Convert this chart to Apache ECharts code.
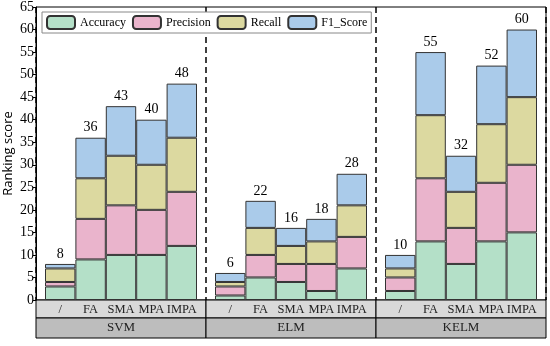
<!DOCTYPE html>
<html>
<head>
<meta charset="utf-8">
<style>html,body{margin:0;padding:0;background:#fff;}#c{width:550px;height:346px;}</style>
<script src="https://cdn.jsdelivr.net/npm/echarts@6/dist/echarts.min.js"></script>
</head>
<body>
<div id="c"></div>
<script>
var categories = ['/', 'FA', 'SMA', 'MPA', 'IMPA'];
var groups = ['SVM', 'ELM', 'KELM'];
var metrics = ['Accuracy', 'Precision', 'Recall', 'F1_Score'];
// values in order SVM(5), ELM(5), KELM(5)
var accuracy  = [3, 9, 10, 10, 12,  1, 5, 4, 2, 7,  2, 13, 8, 13, 15];
var precision = [1, 9, 11, 10, 12,  2, 5, 4, 6, 7,  3, 14, 8, 13, 15];
var recall    = [3, 9, 11, 10, 12,  1, 6, 4, 5, 7,  2, 14, 8, 13, 15];
var f1score   = [1, 9, 11, 10, 12,  2, 6, 4, 5, 7,  3, 14, 8, 13, 15];
var yTicks = {min: 0, max: 65, interval: 5};

var metricData = [accuracy, precision, recall, f1score];
var colors = ['#b4e0c8', '#eab4cc', '#dcd9a0', '#aacbea'];
var serif = 'Liberation Serif';

var chart = echarts.init(document.getElementById('c'), null, {renderer: 'canvas'});

var L = 36, R = 4, T = 7, B = 46, W = 550 - L - R, GW = W / 3, PAD = 9;

var grids = [{left: L, right: R, top: T, bottom: B, show: true, borderColor: '#000', borderWidth: 1,
  backgroundColor: 'transparent', containLabel: false, outerBoundsMode: 'none'}];
var xAxes = [{gridIndex: 0, type: 'value', min: 0, max: 3, interval: 1,
  axisLine: {show: false}, axisTick: {show: false}, axisLabel: {show: false},
  splitLine: {show: true, lineStyle: {type: [6, 4], color: '#000', width: 1.5}}}];
var yAxes = [{gridIndex: 0, type: 'value', position: 'left', min: yTicks.min, max: yTicks.max, interval: yTicks.interval,
  name: 'Ranking score', nameLocation: 'middle', nameGap: 21, nameMoveOverlap: false,
  nameTextStyle: {fontFamily: 'Open Sans', fontSize: 13, color: '#000'},
  axisLine: {show: true, onZero: false, lineStyle: {color: '#000', width: 1}},
  axisTick: {show: true, inside: false, length: 3, lineStyle: {color: '#000'}},
  axisLabel: {inside: false, fontFamily: serif, fontSize: 14, color: '#000', margin: 2},
  splitLine: {show: false}}];
var series = [];

groups.forEach(function (g, gi) {
  var idx = gi + 1;
  grids.push({left: L + GW * gi + PAD, width: GW - 2 * PAD, top: T, bottom: B, containLabel: false, outerBoundsMode: 'none'});
  xAxes.push({gridIndex: idx, type: 'category', data: categories, z: 10,
    axisLine: {show: false}, axisTick: {show: false},
    axisLabel: {fontFamily: serif, fontSize: 12.5, color: '#222', margin: 3, interval: 0}});
  yAxes.push({gridIndex: idx, type: 'value', min: yTicks.min, max: yTicks.max, interval: yTicks.interval, show: false});
  var totals = categories.map(function (c, ci) {
    return metricData.reduce(function (s, arr) { return s + arr[gi * 5 + ci]; }, 0);
  });
  metrics.forEach(function (m, mi) {
    var s = {
      name: m, type: 'bar', xAxisIndex: idx, yAxisIndex: idx, stack: 'g' + gi,
      barCategoryGap: '0%', barGap: '0%',
      data: metricData[mi].slice(gi * 5, gi * 5 + 5),
      itemStyle: {color: colors[mi], borderColor: '#333', borderWidth: 1},
      emphasis: {disabled: true}
    };
    if (mi === metrics.length - 1) {
      s.label = {show: true, position: 'top', distance: 3, fontFamily: serif, fontSize: 14, color: '#000',
        formatter: function (p) { return totals[p.dataIndex]; }};
    }
    series.push(s);
  });
});

// table below the plot
var tIdx = grids.length;
grids.push({left: L, right: R, top: 346 - B, height: 38, containLabel: false, outerBoundsMode: 'none'});
xAxes.push({gridIndex: tIdx, type: 'value', min: 0, max: 3, show: false});
yAxes.push({gridIndex: tIdx, type: 'value', min: 0, max: 38, inverse: true, show: false});
var rowBounds = [0, 18, 38];
var rowColors = ['#d9d9d9', '#bdbdbd'];
var tableData = [];
groups.forEach(function (g, gi) { tableData.push([gi, 0, '']); tableData.push([gi, 1, g]); });
series.push({
  type: 'custom', xAxisIndex: tIdx, yAxisIndex: tIdx, z: 0, silent: true,
  data: tableData,
  renderItem: function (params, api) {
    var gi = api.value(0), r = api.value(1);
    var p0 = api.coord([gi, rowBounds[r]]);
    var p1 = api.coord([gi + 1, rowBounds[r + 1]]);
    var name = tableData[params.dataIndex][2];
    return {
      type: 'group', children: [
        {type: 'rect', shape: {x: p0[0], y: p0[1], width: p1[0] - p0[0], height: p1[1] - p0[1]},
          style: {fill: rowColors[r], stroke: '#000', lineWidth: 1}},
        {type: 'text', style: {text: name, x: (p0[0] + p1[0]) / 2, y: (p0[1] + p1[1]) / 2,
          align: 'center', verticalAlign: 'middle', font: '13px "Liberation Serif"', fill: '#222'}}
      ]
    };
  }
});

chart.setOption({
  animation: false,
  backgroundColor: '#fff',
  grid: grids,
  xAxis: xAxes,
  yAxis: yAxes,
  legend: {
    data: metrics, left: 42, top: 12, orient: 'horizontal',
    itemWidth: 28, itemHeight: 13, itemGap: 6,
    padding: [3, 4], borderColor: '#888', borderWidth: 1, backgroundColor: '#fff',
    textStyle: {fontFamily: serif, fontSize: 12, color: '#000'}
  },
  series: series
});
</script>
</body>
</html>
